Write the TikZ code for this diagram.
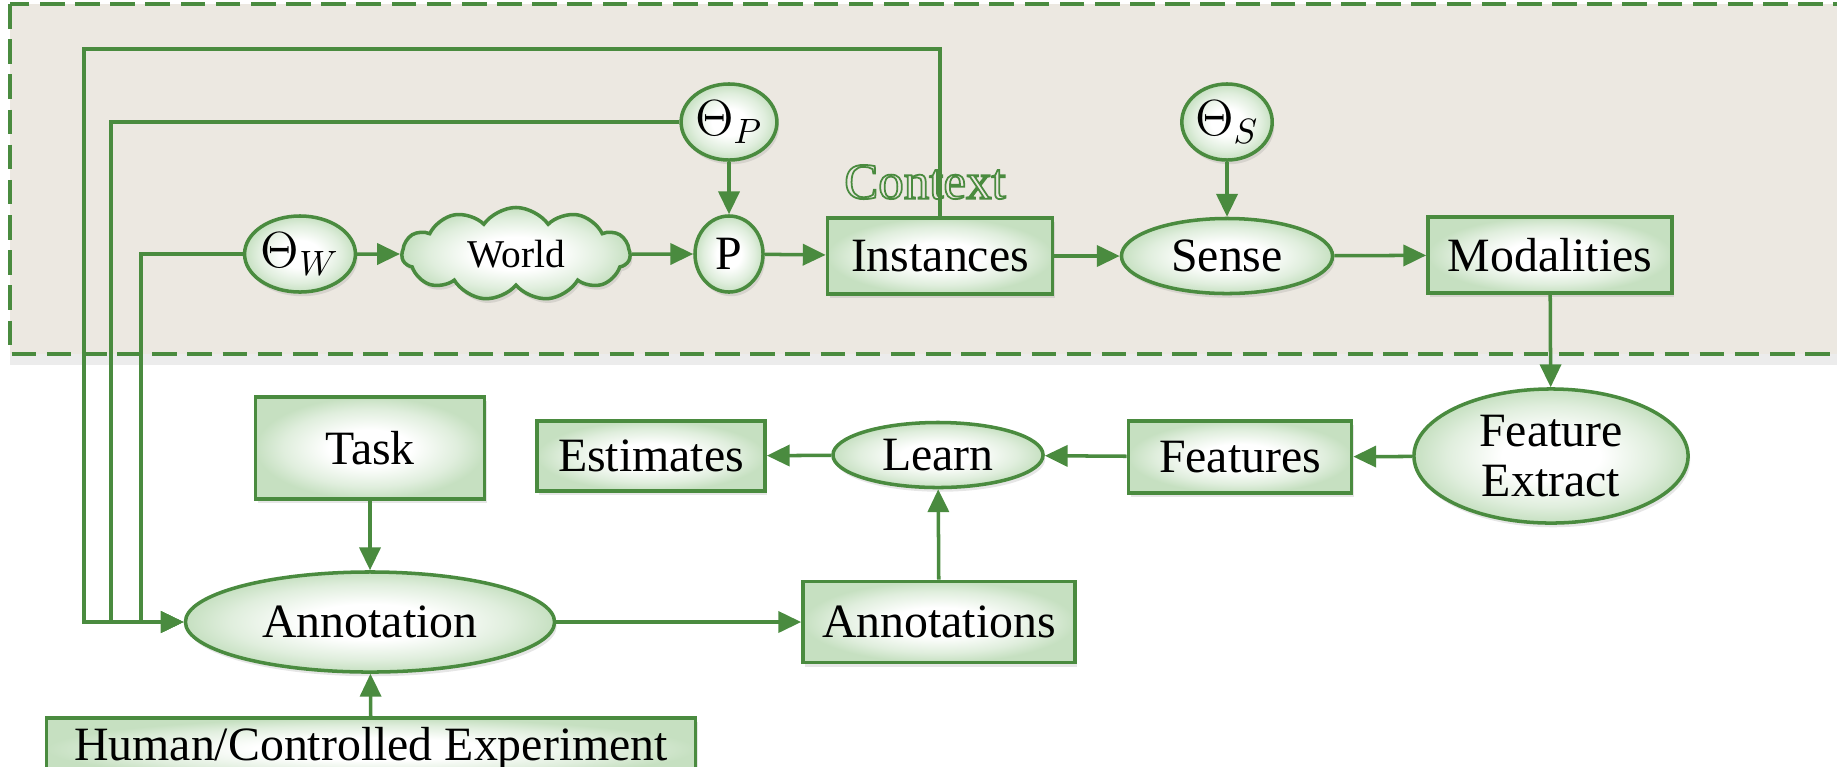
\documentclass[tikz,border=0pt]{standalone}
\usepackage{fontspec}
\setmainfont{Liberation Serif}
\usetikzlibrary{shapes.geometric,shapes.symbols,shadows,arrows.meta}

\definecolor{linegreen}{HTML}{4A8B3F}
\definecolor{shadegreen}{HTML}{C6E0C1}
\definecolor{ctxback}{HTML}{ECE8E1}

% white centre, green rim
\pgfdeclareradialshading{glow}{\pgfpoint{0cm}{0cm}}{%
  color(0bp)=(white); color(9bp)=(white); color(19bp)=(shadegreen!55!white);
  color(25bp)=(shadegreen); color(50bp)=(shadegreen)}

% outlined lettering
\newcommand{\hollow}[1]{\special{pdf:literal direct 1 Tr 0.5 w}#1\special{pdf:literal direct 0 Tr}}

\tikzset{
  base/.style={draw=linegreen,line width=1pt,shading=glow,
    drop shadow={opacity=0.2,shadow xshift=0.6pt,shadow yshift=-1.2pt},
    inner sep=0pt,font=\fontsize{13.6}{16}\selectfont},
  box/.style={base,rectangle,minimum height=0.76cm},
  proc/.style={base,ellipse},
  param/.style={base,ellipse,minimum width=0.68cm,minimum height=0.76cm},
  flow/.style={draw=linegreen,line width=1pt,-{Triangle[length=6.5pt,width=6pt]}}
}

\begin{document}
\begin{tikzpicture}[x=0.01cm,y=-0.01cm]
\useasboundingbox (0,0) rectangle (1837,766);

% context area
\fill[ctxback,drop shadow={opacity=0.15,shadow xshift=0pt,shadow yshift=-3pt}]
  (10,4) rectangle (1850,354);
\draw[linegreen,line width=1pt,dash pattern=on 7pt off 3pt] (10,4) rectangle (1850,354);

% upper row
\node[param] (thW) at (300,254) {$\Theta_W$};
\node[base,cloud,cloud puffs=11,cloud puff arc=110,aspect=2.6,
  minimum width=2.28cm,minimum height=0.93cm,font=\fontsize{11.2}{13}\selectfont]
  (world) at (516,254) {World};
\node[param] (p) at (729,254) {P};
\node[param] (thP) at (729,122) {$\Theta_P$};
\node[box,minimum width=2.25cm] (inst) at (940,256) {Instances};
\node[font=\fontsize{14.5}{16}\selectfont,text=linegreen] (ctx) at (925,182) {\hollow{Context}};
\node[proc,minimum width=2.11cm,minimum height=0.75cm] (sense) at (1227,256) {Sense};
\node[param] (thS) at (1227,122) {$\Theta_S$};
\node[box,minimum width=2.44cm] (modal) at (1550,255) {Modalities};

% lower part
\node[proc,minimum width=2.74cm,minimum height=1.34cm,align=center] (fext) at (1551,456)
  {Feature\\[-2pt]Extract};
\node[box,minimum width=2.23cm,minimum height=0.72cm] (feat) at (1240,457) {Features};
\node[proc,minimum width=2.10cm,minimum height=0.65cm] (learn) at (938,455) {Learn};
\node[box,minimum width=2.28cm,minimum height=0.70cm] (est) at (651,456) {Estimates};
\node[box,minimum width=2.29cm,minimum height=1.02cm] (task) at (370,448) {Task};
\node[proc,minimum width=3.69cm,minimum height=1.00cm] (annot) at (370,622) {Annotation};
\node[box,minimum width=2.72cm,minimum height=0.81cm] (annots) at (939,622) {Annotations};
\node[box,minimum width=6.49cm,minimum height=0.62cm] (human) at (371,749)
  {Human/Controlled Experiment};

% feedback bends
\coordinate (bendA) at (84,49);
\coordinate (bendB) at (111,622);
\coordinate (bendC) at (141,622);

\draw[flow] (thW) -- (world);
\draw[flow] (world) -- (p);
\draw[flow] (thP) -- (p);
\draw[flow] (p) -- (inst);
\draw[flow] (inst) -- (sense);
\draw[flow] (thS) -- (sense);
\draw[flow] (sense) -- (modal);
\draw[flow] (modal) -- (fext);
\draw[flow] (fext) -- (feat);
\draw[flow] (feat) -- (learn);
\draw[flow] (learn) -- (est);
\draw[flow] (annots) -- (learn);
\draw[flow] (task) -- (annot);
\draw[flow] (human) -- (annot);
\draw[flow] (annot) -- (annots);

\draw[flow] (inst.north) |- (bendA) |- (annot.west);
\draw[flow] (thP.west) -| (bendB) -- (annot.west);
\draw[flow] (thW.west) -| (bendC) -- (annot.west);
\end{tikzpicture}
\end{document}
